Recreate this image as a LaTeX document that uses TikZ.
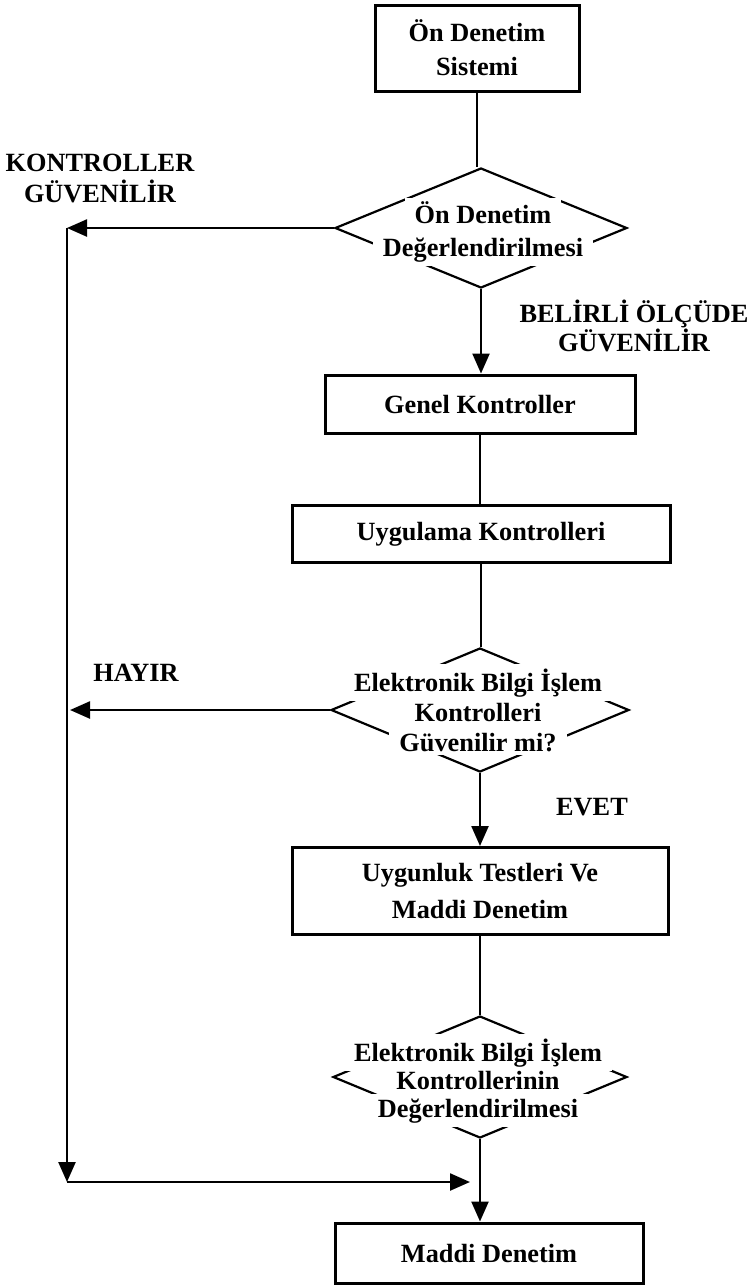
\documentclass[tikz,border=0pt]{standalone}
\usepackage{fontspec}
\setmainfont{Liberation Serif}
\usetikzlibrary{shapes.geometric,arrows.meta}
\setlength{\fboxsep}{4pt}
\newcommand\wb[1]{\smash{\colorbox{white}{\hspace{6pt}#1\hspace{6pt}}}}
\begin{document}
\begin{tikzpicture}[x=1pt,y=1pt,
  box/.style={draw, line width=3pt, inner sep=0pt, align=center, font=\bfseries\fontsize{26.3}{34}\selectfont},
  dia/.style={draw, diamond, line width=2.2pt, inner sep=0pt},
  dtext/.style={inner sep=0pt, align=center, font=\bfseries\fontsize{26.3}{#1}\selectfont},
  lab/.style={inner sep=0pt, align=center, font=\bfseries\fontsize{26.3}{#1}\selectfont},
  lab/.default=31,
  conn/.style={line width=2.4pt},
  arr/.style={conn, -{Triangle[length=20pt,width=17pt]}}]
\useasboundingbox (0,0) rectangle (754,-1285);

% diamonds
\node[dia, minimum width=292pt, minimum height=120pt] (d1) at (481,-228) {};
\node[dia, minimum width=298pt, minimum height=124pt] (d2) at (480,-710) {};
\node[dia, minimum width=294pt, minimum height=122pt] (d3) at (480,-1077) {};

% diamond texts
\node[dtext=33] (d1t) at (483,-240) {\wb{Ön Denetim}\\\wb{Değerlendirilmesi}};
\node[dtext=30] (d2t) at (478,-721) {\wb{Elektronik Bilgi İşlem}\\\wb{Kontrolleri}\\\wb{Güvenilir mi?}};
\node[dtext=28] (d3t) at (478,-1089) {\wb{Elektronik Bilgi İşlem}\\\wb{Kontrollerinin}\\\wb{Değerlendirilmesi}};

% boxes
\node[box, minimum width=204pt, minimum height=86pt] (b1) at (477,-48) {Ön Denetim\\Sistemi};
\node[box, minimum width=310pt, minimum height=58pt] (genel) at (480,-404) {Genel Kontroller};
\node[box, minimum width=378pt, minimum height=57pt] (uyg) at (481,-534) {Uygulama Kontrolleri};
\node[box, minimum width=376pt, minimum height=87pt] (uyg2) at (480,-891) {Uygunluk Testleri Ve\\[3pt]Maddi Denetim};
\node[box, minimum width=308pt, minimum height=60pt] (maddi) at (489,-1253) {Maddi Denetim};

% labels
\node[lab] (kg) at (100,-178) {KONTROLLER\\GÜVENİLİR};
\node[lab=29] (bg) at (634,-326) {BELİRLİ ÖLÇÜDE\\GÜVENİLİR};
\node[lab] (hayir) at (136,-673) {HAYIR};
\node[lab] (evet) at (592,-807) {EVET};

% coordinates for the left return path
\coordinate (c1) at (67,-228);
\coordinate (c2) at (67,-1182);
\coordinate (c3) at (470,-1182);
\coordinate (h) at (70,-710);

% connectors
\draw[conn] (b1.south) -- (b1.south |- d1.north);
\draw[arr] (d1.south) -- (d1.south |- genel.north);
\draw[conn] (genel.south) -- (genel.south |- uyg.north);
\draw[conn] (uyg.south) -- (uyg.south |- d2.north);
\draw[arr] (d2.south) -- (d2.south |- uyg2.north);
\draw[conn] (uyg2.south) -- (uyg2.south |- d3.north);
\draw[arr] (d3.south) -- (d3.south |- maddi.north);

\draw[arr] (d1.west) -- (c1);
\draw[arr] (c1) -- (c2);
\draw[arr] (c2) -- (c3);
\draw[arr] (d2.west) -- (h);
\end{tikzpicture}
\end{document}
